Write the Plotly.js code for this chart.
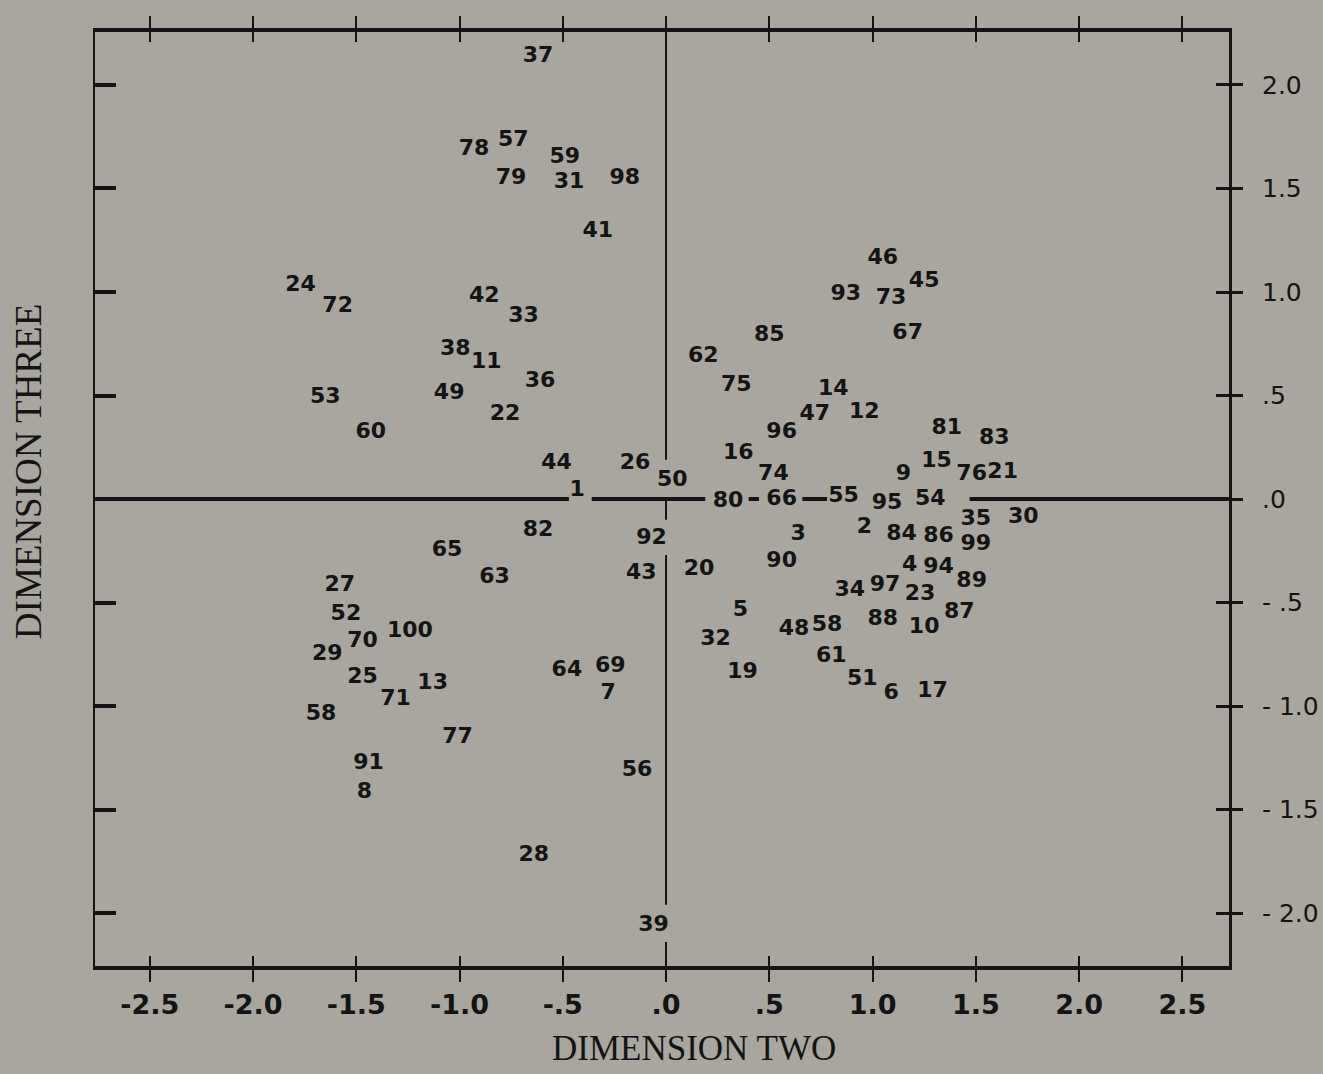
<!DOCTYPE html>
<html>
<head>
<meta charset="utf-8">
<script src="https://cdn.plot.ly/plotly-3.0.1.min.js"></script>
<style>
  html, body { margin: 0; padding: 0; background: #a8a69e; }
  #chart { width: 1323px; height: 1074px; }
</style>
</head>
<body>
<div id="chart"></div>
<script>
// ---- Data (point number, dimension two, dimension three) ----
const pointLabels = ['37','78','57','59','79','31','98','41','24','72','42','33','38','11','36','53','49','22','60','44','26','50','1',
  '46','93','73','45','67','85','62','75','14','47','12','96','81','83','16','74','9','15','76','21',
  '80','66','55','95','54',
  '35','30','3','2','84','86','99','92','20','90','4','94','89','34','97','23','5','48','58','88','10','87','32','61','19','51','6','17','39',
  '82','65','63','43','27','52','100','70','29','25','71','13','64','69','7','58','77','91','8','56','28'];
const dimTwo = [-0.62,-0.93,-0.74,-0.49,-0.75,-0.47,-0.20,-0.33,-1.77,-1.59,-0.88,-0.69,-1.02,-0.87,-0.61,-1.65,-1.05,-0.78,-1.43,-0.53,-0.15,0.03,-0.43,
  1.05,0.87,1.09,1.25,1.17,0.50,0.18,0.34,0.81,0.72,0.96,0.56,1.36,1.59,0.35,0.52,1.15,1.31,1.48,1.63,
  0.30,0.56,0.86,1.07,1.28,
  1.50,1.73,0.64,0.96,1.14,1.32,1.50,-0.07,0.16,0.56,1.18,1.32,1.48,0.89,1.06,1.23,0.36,0.62,0.78,1.05,1.25,1.42,0.24,0.80,0.37,0.95,1.09,1.29,-0.06,
  -0.62,-1.06,-0.83,-0.12,-1.58,-1.55,-1.24,-1.47,-1.64,-1.47,-1.31,-1.13,-0.48,-0.27,-0.28,-1.67,-1.01,-1.44,-1.46,-0.14,-0.64];
const dimThree = [2.14,1.69,1.73,1.65,1.55,1.53,1.55,1.29,1.03,0.93,0.98,0.88,0.72,0.66,0.57,0.49,0.51,0.41,0.32,0.17,0.17,0.09,0.04,
  1.16,0.99,0.97,1.05,0.80,0.79,0.69,0.55,0.53,0.41,0.42,0.32,0.34,0.29,0.22,0.12,0.12,0.18,0.12,0.13,
  -0.01,0.00,0.01,-0.02,0.00,
  -0.10,-0.09,-0.17,-0.14,-0.17,-0.18,-0.22,-0.19,-0.34,-0.30,-0.32,-0.33,-0.40,-0.44,-0.42,-0.46,-0.54,-0.63,-0.61,-0.58,-0.62,-0.55,-0.68,-0.76,-0.84,-0.87,-0.94,-0.93,-2.06,
  -0.15,-0.25,-0.38,-0.36,-0.42,-0.56,-0.64,-0.69,-0.75,-0.86,-0.97,-0.89,-0.83,-0.81,-0.94,-1.04,-1.15,-1.28,-1.42,-1.31,-1.72];

// Axis ticks and titles
const xTickVals = [-2.5,-2.0,-1.5,-1.0,-0.5,0,0.5,1.0,1.5,2.0,2.5];
const xTickText = ['-2.5','-2.0','-1.5','-1.0','-.5','.0','.5','1.0','1.5','2.0','2.5'];
const yTickVals = [2.0,1.5,1.0,0.5,0,-0.5,-1.0,-1.5,-2.0];
const yTickText = ['2.0','1.5','1.0','.5','.0','- .5','- 1.0','- 1.5','- 2.0'];
const yLeftTickVals = [2.0,1.5,1.0,0.5,-0.5,-1.0,-1.5,-2.0];
const xTitle = 'DIMENSION TWO';
const yTitle = 'DIMENSION THREE';

// Visible pieces of the origin cross-hair lines (broken where labels sit)
const xRange = [-2.765, 2.726];
const yRange = [-2.256, 2.256];
const horizontalPieces = [[xRange[0], -0.47], [-0.36, 0.19], [0.40, 0.45], [0.66, 0.78], [1.47, xRange[1]]];
const verticalPieces = [[0.19, yRange[1]], [-0.10, 0.0], [-1.96, -0.27], [yRange[0], -2.14]];

function pieces(list, fixed, horiz) {
  const a = [], b = [];
  list.forEach(function (p) {
    a.push(p[0], p[1], null);
    b.push(fixed, fixed, null);
  });
  return horiz ? {x: a, y: b} : {x: b, y: a};
}
const hp = pieces(horizontalPieces, 0, true);
const vp = pieces(verticalPieces, 0, false);

const ink = '#141414';
const bg = '#a8a69e';

const traces = [
  {x: hp.x, y: hp.y, mode: 'lines', line: {color: ink, width: 4}, hoverinfo: 'skip', showlegend: false},
  {x: vp.x, y: vp.y, mode: 'lines', line: {color: ink, width: 2}, hoverinfo: 'skip', showlegend: false},
  {x: dimTwo, y: dimThree, text: pointLabels, mode: 'text', textposition: 'middle center',
   textfont: {family: 'DejaVu Sans', size: 22, weight: 'bold', color: ink}, hoverinfo: 'skip', showlegend: false},
  {x: [null], y: [null], xaxis: 'x2', yaxis: 'y2', mode: 'markers', showlegend: false, hoverinfo: 'skip'},
  {x: [null], y: [null], xaxis: 'x2', yaxis: 'y3', mode: 'markers', showlegend: false, hoverinfo: 'skip'}
];

const layout = {
  width: 1323, height: 1074,
  margin: {l: 95, r: 94, t: 32, b: 108},
  paper_bgcolor: bg, plot_bgcolor: bg,
  showlegend: false,
  font: {family: 'DejaVu Sans', color: ink},
  xaxis: {
    range: xRange, showgrid: false, zeroline: false,
    tickmode: 'array', tickvals: xTickVals, ticktext: xTickText,
    ticks: 'outside', ticklen: 12, tickwidth: 2, tickcolor: ink,
    showline: true, linewidth: 4, linecolor: ink, mirror: 'ticks',
    tickfont: {family: 'DejaVu Sans', size: 27, weight: 'bold', color: ink},
    automargin: false
  },
  xaxis2: {
    range: xRange, overlaying: 'x', side: 'bottom', showgrid: false, zeroline: false,
    tickmode: 'array', tickvals: xTickVals,
    ticks: 'inside', ticklen: 10, tickwidth: 2, tickcolor: ink,
    showline: false, mirror: 'ticks', showticklabels: false, automargin: false
  },
  yaxis: {
    range: yRange, showgrid: false, zeroline: false,
    tickmode: 'array', tickvals: yLeftTickVals,
    ticks: 'inside', ticklen: 21, tickwidth: 4, tickcolor: ink,
    showline: true, linewidth: 2.5, linecolor: ink, mirror: true,
    showticklabels: false, automargin: false
  },
  yaxis2: {
    range: yRange, overlaying: 'y', side: 'right', showgrid: false, zeroline: false,
    tickmode: 'array', tickvals: yTickVals, ticktext: yTickText,
    ticks: 'outside', ticklen: 13, tickwidth: 3, tickcolor: ink,
    showline: false, ticklabelstandoff: 14,
    tickfont: {family: 'DejaVu Sans', size: 25, color: ink}, automargin: false
  },
  yaxis3: {
    range: yRange, overlaying: 'y', side: 'right', showgrid: false, zeroline: false,
    tickmode: 'array', tickvals: yTickVals,
    ticks: 'inside', ticklen: 13, tickwidth: 3, tickcolor: ink,
    showline: false, showticklabels: false, automargin: false
  },
  annotations: [
    {text: xTitle, xref: 'paper', yref: 'paper', x: 0.528, y: -0.088, xanchor: 'center', yanchor: 'middle',
     showarrow: false, font: {family: 'Liberation Serif', size: 35, color: ink}},
    {text: yTitle, xref: 'paper', yref: 'paper', x: -0.058, y: 0.529, xanchor: 'center', yanchor: 'middle',
     textangle: -90, showarrow: false, font: {family: 'Liberation Serif', size: 37, color: ink}}
  ]
};

Plotly.newPlot('chart', traces, layout, {staticPlot: true, displayModeBar: false});
</script>
</body>
</html>
